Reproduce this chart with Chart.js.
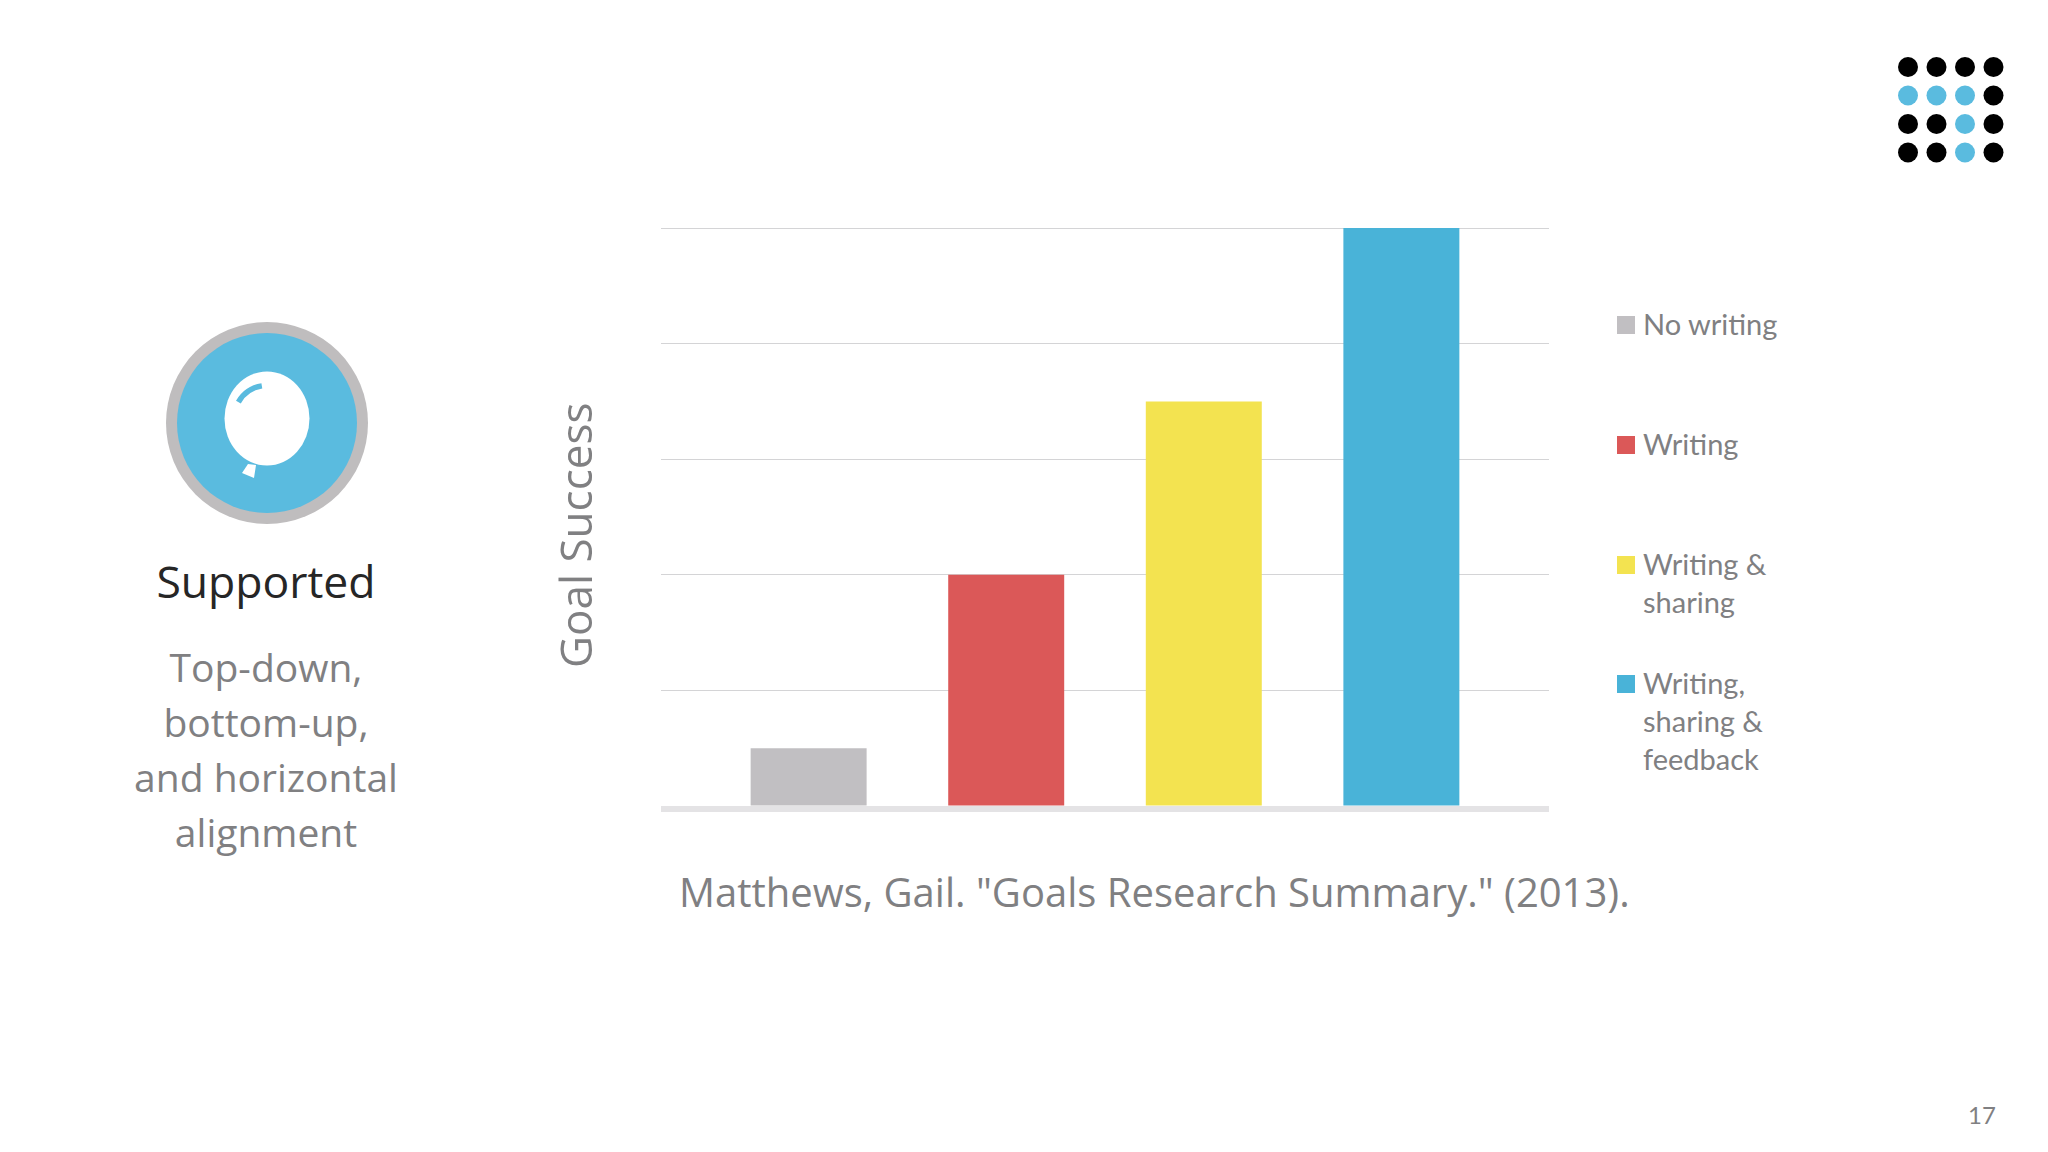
<!DOCTYPE html>
<html>
<head>
<meta charset="utf-8">
<title>Goal Success</title>
<script src="https://cdn.jsdelivr.net/npm/chart.js@4"></script>
<style>
  html, body { margin: 0; padding: 0; background: #fff; }
  #slide { position: relative; width: 2048px; height: 1152px; overflow: hidden; font-family: Lato, sans-serif; color: #808082; }
  #chartBox { position: absolute; left: 540px; top: 200px; width: 1040px; height: 640px; }
  .txt { position: absolute; white-space: pre; }
  #heading { left: 66px; width: 400px; top: 550px; text-align: center; font-size: 44.5px; color: #262626; font-family: "Open Sans", sans-serif; }
  #support { left: 66px; width: 400px; top: 639px; text-align: center; font-size: 39px; line-height: 55px; font-family: "Open Sans", sans-serif; }
  #source { left: 679px; top: 864px; font-size: 40px; font-family: "Open Sans", sans-serif; }
  #axisTitle { left: 475px; top: 538px; width: 200px; text-align: center; font-size: 44px; line-height: 60px; font-family: "Open Sans", sans-serif; transform: rotate(-90deg); }
  #pageNo { left: 1968px; top: 1100px; font-size: 24px; }
  .legendItem { position: absolute; left: 1617px; font-size: 29px; line-height: 38px; white-space: pre; }
  .legendItem i { position: absolute; left: 0; top: 11px; width: 18px; height: 18px; }
  .legendItem span { position: absolute; left: 26px; top: 0; }
  #icon, #dots { position: absolute; }
</style>
</head>
<body>
<div id="slide">
  <canvas id="icon" width="240" height="240" style="left:147px;top:303px"></canvas>
  <canvas id="dots" width="130" height="130" style="left:1891px;top:50px"></canvas>
  <div class="txt" id="heading">Supported</div>
  <div class="txt" id="support">Top-down,
bottom-up,
and horizontal
alignment</div>
  <div id="chartBox"><canvas id="goalChart"></canvas></div>
  <div class="txt" id="axisTitle">Goal Success</div>
  <div class="txt" id="source">Matthews, Gail. "Goals Research Summary." (2013).</div>
  <div class="txt" id="pageNo">17</div>
</div>
<script>
const seriesNames = ['No writing', 'Writing', 'Writing & sharing', 'Writing, sharing & feedback'];
const legendLines = ['No writing', 'Writing', 'Writing &\nsharing', 'Writing,\nsharing &\nfeedback'];
const seriesValues = [1, 4, 7, 10];
const seriesColors = ['#c1bfc2', '#db5858', '#f3e350', '#49b3d8'];
const legendTops = [305, 425, 545, 664];
const dotRows = [
  [0, 0, 0, 0],
  [1, 1, 1, 0],
  [0, 0, 1, 0],
  [0, 0, 1, 0]
];

// band under the bars, the bars stop on top of it
const baseBand = {
  id: 'baseBand',
  beforeDatasetsDraw(chart) {
    const { ctx, chartArea, scales } = chart;
    const y0 = scales.y.getPixelForValue(0);
    ctx.save();
    ctx.fillStyle = '#e4e3e5';
    ctx.fillRect(chartArea.left, y0, chartArea.right - chartArea.left, 6);
    ctx.restore();
  }
};

new Chart(document.getElementById('goalChart').getContext('2d'), {
  type: 'bar',
  data: {
    labels: [''],
    datasets: seriesNames.map((name, i) => ({
      label: name,
      data: [seriesValues[i]],
      backgroundColor: seriesColors[i],
      categoryPercentage: 0.89,
      barPercentage: 0.587
    }))
  },
  plugins: [baseBand],
  options: {
    responsive: true,
    maintainAspectRatio: false,
    animation: false,
    layout: { padding: { top: 28, right: 31, bottom: 26, left: 0 } },
    plugins: { legend: { display: false }, tooltip: { enabled: false } },
    scales: {
      x: {
        grid: { display: false },
        border: { display: false },
        ticks: { display: false }
      },
      y: {
        min: 0,
        max: 10,
        afterFit(scale) { scale.width = 121; },
        ticks: { display: false, stepSize: 2 },
        grid: { color: '#d4d4d6', lineWidth: 1, drawTicks: false },
        border: { display: false }
      }
    }
  }
});

// legend on the side, wrapped like the original
legendLines.forEach((text, i) => {
  const item = document.createElement('div');
  item.className = 'legendItem';
  item.style.top = legendTops[i] + 'px';
  const box = document.createElement('i');
  box.style.background = seriesColors[i];
  const label = document.createElement('span');
  label.textContent = text;
  item.append(box, label);
  document.getElementById('slide').append(item);
});

// balloon badge
const ic = document.getElementById('icon').getContext('2d');
ic.fillStyle = '#bfbdbe';
ic.beginPath(); ic.arc(120, 120, 101, 0, Math.PI * 2); ic.fill();
ic.fillStyle = '#5abbdf';
ic.beginPath(); ic.arc(120, 120, 90, 0, Math.PI * 2); ic.fill();
ic.fillStyle = '#fff';
ic.beginPath(); ic.ellipse(120, 115.5, 42.5, 47, 0, 0, Math.PI * 2); ic.fill();
ic.beginPath(); ic.moveTo(101, 161); ic.lineTo(95, 170); ic.lineTo(107, 175); ic.lineTo(109, 162); ic.closePath(); ic.fill();
ic.strokeStyle = '#5abbdf';
ic.lineWidth = 5.5;
ic.beginPath(); ic.arc(120, 115.5, 33, Math.PI * 1.166, Math.PI * 1.45); ic.stroke();

// dot grid top right
const dc = document.getElementById('dots').getContext('2d');
dotRows.forEach((row, r) => row.forEach((on, c) => {
  dc.fillStyle = on ? '#5abbdf' : '#000';
  dc.beginPath();
  dc.arc(17 + c * 28.5, 17 + r * 28.5, 10, 0, Math.PI * 2);
  dc.fill();
}));
</script>
</body>
</html>
